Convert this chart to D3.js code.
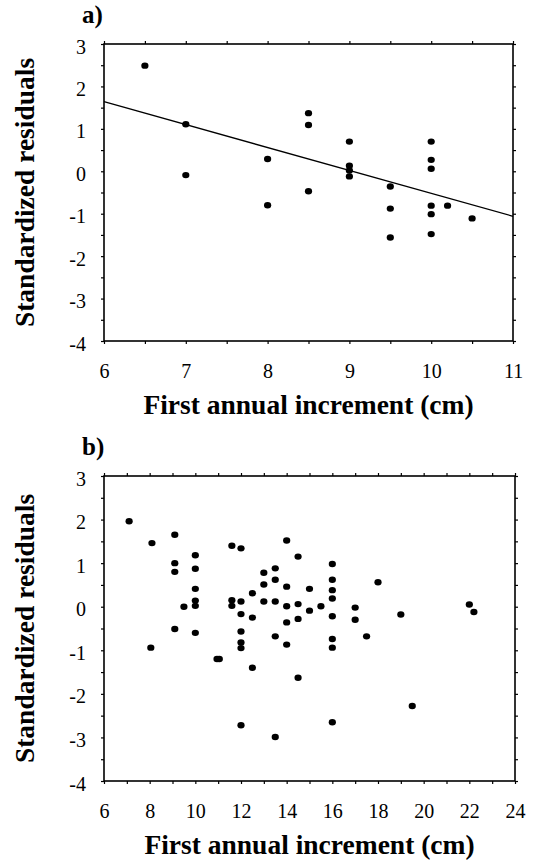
<!DOCTYPE html>
<html>
<head>
<meta charset="utf-8">
<script src="https://cdn.jsdelivr.net/npm/d3@7"></script>
<style>
  html, body { margin: 0; padding: 0; background: #fff; }
  svg { display: block; }
  text { font-family: "Liberation Serif", "Times New Roman", serif; fill: #000; }
</style>
</head>
<body>
<svg id="chart" width="539" height="865"></svg>
<script>
// ---------- Data ----------
const yTickValues = [3, 2, 1, 0, -1, -2, -3, -4];

// Panel a
const aXTicks = [6, 7, 8, 9, 10, 11];
const aX = [6.5, 7.0, 7.0, 8.0, 8.0, 8.5, 8.5, 8.5, 9.0, 9.0, 9.0, 9.0,
            9.5, 9.5, 9.5, 10.0, 10.0, 10.0, 10.0, 10.0, 10.0, 10.2, 10.5];
const aY = [2.49, 1.11, -0.09, 0.29, -0.80, 1.37, 1.09, -0.47, 0.70, 0.13, 0.02, -0.12,
            -0.36, -0.88, -1.56, 0.70, 0.27, 0.06, -0.81, -1.01, -1.48, -0.81, -1.11];
const lineAX = [6, 11];
const lineAY = [1.64, -1.06];

// Panel b
const bXTicks = [6, 8, 10, 12, 14, 16, 18, 20, 22, 24];
const bX = [7.1, 8.1, 8.05, 9.1, 9.1, 9.1, 9.1, 9.5,
            10, 10, 10, 10, 10, 10, 10.95, 11.05,
            11.6, 11.6, 11.6,
            12, 12, 12, 12, 12, 12, 12,
            12.5, 12.5, 12.5,
            13, 13, 13,
            13.5, 13.5, 13.5, 13.5, 13.5,
            14, 14, 14, 14, 14,
            14.5, 14.5, 14.5, 14.5,
            15, 15, 15.5,
            16, 16, 16, 16, 16, 16, 16, 16,
            17, 17, 17.5, 18, 19, 19.5, 22, 22.2];
const bY = [1.96, 1.46, -0.94, 1.65, 1.0, 0.80, -0.51, 0.0,
            1.18, 0.87, 0.41, 0.14, 0.02, -0.60, -1.20, -1.20,
            1.40, 0.15, 0.02,
            1.34, 0.12, -0.17, -0.57, -0.82, -0.95, -2.72,
            0.31, -0.25, -1.40,
            0.78, 0.51, 0.12,
            0.88, 0.62, 0.12, -0.68, -2.99,
            1.52, 0.46, 0.01, -0.36, -0.87,
            1.15, 0.06, -0.28, -1.63,
            0.41, -0.09, 0.01,
            0.98, 0.62, 0.38, 0.19, -0.22, -0.74, -0.94, -2.65,
            -0.02, -0.30, -0.68, 0.56, -0.18, -2.28, 0.05, -0.12];

// ---------- Drawing ----------
const svg = d3.select("#chart");

function drawPanel(cfg) {
  const x = d3.scaleLinear().domain(cfg.xDomain).range([cfg.left, cfg.right]);
  const y = d3.scaleLinear().domain([-4, 3]).range([cfg.bottom, cfg.top]);
  const g = svg.append("g");

  // Small outward tick marks on four sides
  const xMinor = d3.range(cfg.xDomain[0], cfg.xDomain[1] + 1e-9, cfg.xStep);
  const yMinor = d3.range(-4, 3 + 1e-9, 0.5);
  const tickLen = 3;
  const tickGroups = [
    [d3.axisBottom(x).tickValues(xMinor), `translate(0,${cfg.bottom})`],
    [d3.axisTop(x).tickValues(xMinor), `translate(0,${cfg.top})`],
    [d3.axisLeft(y).tickValues(yMinor), `translate(${cfg.left},0)`],
    [d3.axisRight(y).tickValues(yMinor), `translate(${cfg.right},0)`]
  ];
  tickGroups.forEach(([ax, tr]) => {
    const t = g.append("g").attr("transform", tr)
      .call(ax.tickSize(tickLen).tickFormat(""));
    t.select(".domain").remove();
    t.selectAll("line").attr("stroke", "#000").attr("stroke-width", 1.2);
  });

  // Tick labels
  const xl = g.append("g").attr("transform", `translate(0,${cfg.bottom})`)
    .call(d3.axisBottom(x).tickValues(cfg.xTicks).tickSize(0).tickPadding(23).tickFormat(d3.format("d")));
  xl.select(".domain").remove();
  xl.selectAll("text").style("font-family", '"Liberation Serif", serif').style("font-size", "20px");

  const yl = g.append("g").attr("transform", `translate(${cfg.left},0)`)
    .call(d3.axisLeft(y).tickValues(yTickValues).tickSize(0).tickPadding(18).tickFormat(d => d < 0 ? "-" + Math.abs(d) : String(d)));
  yl.select(".domain").remove();
  yl.selectAll("text").style("font-family", '"Liberation Serif", serif').style("font-size", "20px").attr("dy", "0.45em");

  // Frame
  g.append("rect")
    .attr("x", cfg.left).attr("y", cfg.top)
    .attr("width", cfg.right - cfg.left).attr("height", cfg.bottom - cfg.top)
    .attr("fill", "none").attr("stroke", "#000").attr("stroke-width", 1.6);

  // Regression line
  if (cfg.lineX) {
    const pts = cfg.lineX.map((v, i) => [v, cfg.lineY[i]]);
    g.append("path")
      .attr("d", d3.line().x(d => x(d[0])).y(d => y(d[1]))(pts))
      .attr("fill", "none").attr("stroke", "#000").attr("stroke-width", 1.3);
  }

  // Points
  g.append("g").selectAll("ellipse")
    .data(cfg.xs.map((v, i) => [v, cfg.ys[i]]))
    .join("ellipse")
    .attr("cx", d => x(d[0])).attr("cy", d => y(d[1]))
    .attr("rx", 3.6).attr("ry", 3.2)
    .attr("fill", "#000");

  // Panel letter
  g.append("text")
    .attr("x", cfg.left - 22).attr("y", cfg.top - 21)
    .style("font-size", "25px").style("font-weight", "bold")
    .text(cfg.letter);

  // Axis titles
  g.append("text")
    .attr("x", (cfg.left + cfg.right) / 2).attr("y", cfg.bottom + 73)
    .attr("text-anchor", "middle")
    .style("font-size", "27.5px").style("font-weight", "bold")
    .text("First annual increment (cm)");

  g.append("text")
    .attr("transform", `translate(34,${(cfg.top + cfg.bottom) / 2}) rotate(-90)`)
    .attr("text-anchor", "middle")
    .style("font-size", "27.5px").style("font-weight", "bold")
    .text("Standardized residuals");
}

drawPanel({
  letter: "a)", left: 104, right: 513, top: 44, bottom: 341,
  xDomain: [6, 11], xStep: 0.5, xTicks: aXTicks,
  xs: aX, ys: aY, lineX: lineAX, lineY: lineAY
});

drawPanel({
  letter: "b)", left: 104, right: 515, top: 476, bottom: 781,
  xDomain: [6, 24], xStep: 1, xTicks: bXTicks,
  xs: bX, ys: bY
});
</script>
</body>
</html>
